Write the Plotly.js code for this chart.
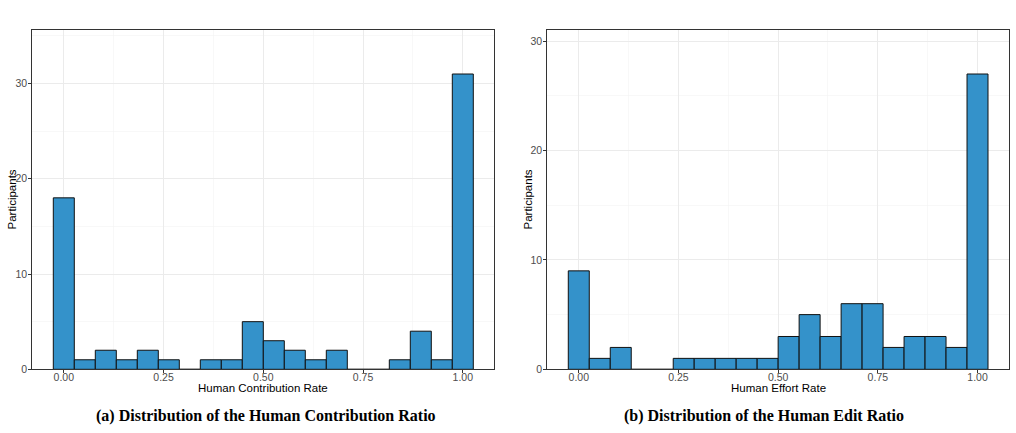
<!DOCTYPE html>
<html>
<head>
<meta charset="utf-8">
<script src="https://cdn.plot.ly/plotly-3.0.1.min.js"></script>
<style>
  html, body { margin: 0; padding: 0; background: #ffffff; }
  #chart { width: 1016px; height: 433px; }
</style>
</head>
<body>
<div id="chart"></div>
<script>
// Histogram counts, 20 equal bins spanning rates 0..1 (bins centred on 0, 1/19, ..., 1)
const contributionCounts = [18, 1, 2, 1, 2, 1, 0, 1, 1, 5, 3, 2, 1, 2, 0, 0, 1, 4, 1, 31];
const editCounts        = [9, 1, 2, 0, 0, 1, 1, 1, 1, 1, 3, 5, 3, 6, 6, 2, 3, 3, 2, 27];

const xTickVals  = [0, 0.25, 0.5, 0.75, 1];
const xTickText  = ['0.00', '0.25', '0.50', '0.75', '1.00'];
const yTickVals  = [0, 10, 20, 30];

const xTitles  = ['Human Contribution Rate', 'Human Effort Rate'];
const captions = ['(a) Distribution of the Human Contribution Ratio',
                  '(b) Distribution of the Human Edit Ratio'];

const nBins = contributionCounts.length;
const binWidth = 1 / (nBins - 1);
const binCenters = contributionCounts.map((_, i) => i * binWidth);

const barFill = 'rgb(52,146,202)';

function barTrace(counts, xa, ya) {
  return {
    type: 'bar',
    x: binCenters,
    y: counts,
    width: binWidth,
    xaxis: xa,
    yaxis: ya,
    marker: { color: barFill, line: { color: '#111111', width: 1 } },
    hoverinfo: 'skip'
  };
}

const sans = 'Liberation Sans, Arial, sans-serif';

function xAxis(domain, anchor) {
  return {
    domain: domain,
    anchor: anchor,
    range: [-1.5 * binWidth, 1 + 1.5 * binWidth],
    tickvals: xTickVals,
    ticktext: xTickText,
    ticks: 'outside',
    ticklen: 3,
    tickwidth: 1,
    tickcolor: '#333333',
    ticklabelstandoff: -5,
    tickfont: { family: sans, size: 10.5, color: '#4d4d4d' },
    showgrid: true,
    gridcolor: '#ebebeb',
    gridwidth: 1,
    minor: { dtick: 0.125, tick0: 0.125, showgrid: true, gridcolor: '#f3f3f3', gridwidth: 0.6 },
    showline: true,
    mirror: true,
    linecolor: '#333333',
    linewidth: 1,
    zeroline: false,
    fixedrange: true
  };
}

function yAxis(domain, anchor, top) {
  return {
    domain: domain,
    anchor: anchor,
    range: [0, top],
    tickvals: yTickVals,
    ticks: 'outside',
    ticklen: 3,
    tickwidth: 1,
    tickcolor: '#333333',
    ticklabelstandoff: -1,
    tickfont: { family: sans, size: 10.5, color: '#4d4d4d' },
    showgrid: true,
    gridcolor: '#ebebeb',
    gridwidth: 1,
    minor: { dtick: 5, tick0: 5, showgrid: true, gridcolor: '#f3f3f3', gridwidth: 0.6 },
    showline: true,
    mirror: true,
    linecolor: '#333333',
    linewidth: 1,
    zeroline: false,
    fixedrange: true
  };
}

const W = 1016, H = 433;
const yDom = [1 - 369.3 / H, 1 - 29.7 / H];
const xDomL = [32.3 / W, 494.3 / W];
const xDomR = [547.3 / W, 1009 / W];

const topL = Math.max(...contributionCounts) * 1.15;
const topR = Math.max(...editCounts) * 1.15;

const annotations = [];
function addText(text, xPx, yPx, font, angle) {
  annotations.push({
    text: text, xref: 'paper', yref: 'paper',
    x: xPx / W, y: 1 - yPx / H,
    xanchor: 'center', yanchor: 'middle',
    showarrow: false, font: font, textangle: angle || 0
  });
}
const titleFont = { family: sans, size: 11.5, color: '#000000' };
const capFont = { family: 'Liberation Serif, Times New Roman, serif', size: 16, color: '#000000', weight: 'bold' };

addText(xTitles[0], (xDomL[0] + xDomL[1]) / 2 * W, 388, titleFont);
addText(xTitles[1], (xDomR[0] + xDomR[1]) / 2 * W, 388, titleFont);
addText('Participants', 11, 199.5, titleFont, -90);
addText('Participants', 527, 199.5, titleFont, -90);
addText('<b>' + captions[0] + '</b>', 266, 416, capFont);
addText('<b>' + captions[1] + '</b>', 764, 416, capFont);

const layout = {
  width: W, height: H,
  margin: { l: 0, r: 0, t: 0, b: 0 },
  paper_bgcolor: '#ffffff',
  plot_bgcolor: '#ffffff',
  showlegend: false,
  bargap: 0,
  xaxis: xAxis(xDomL, 'y'),
  yaxis: yAxis(yDom, 'x', topL),
  xaxis2: xAxis(xDomR, 'y2'),
  yaxis2: yAxis(yDom, 'x2', topR),
  annotations: annotations
};

Plotly.newPlot('chart', [barTrace(contributionCounts, 'x', 'y'), barTrace(editCounts, 'x2', 'y2')], layout,
  { displayModeBar: false, staticPlot: true });
</script>
</body>
</html>
